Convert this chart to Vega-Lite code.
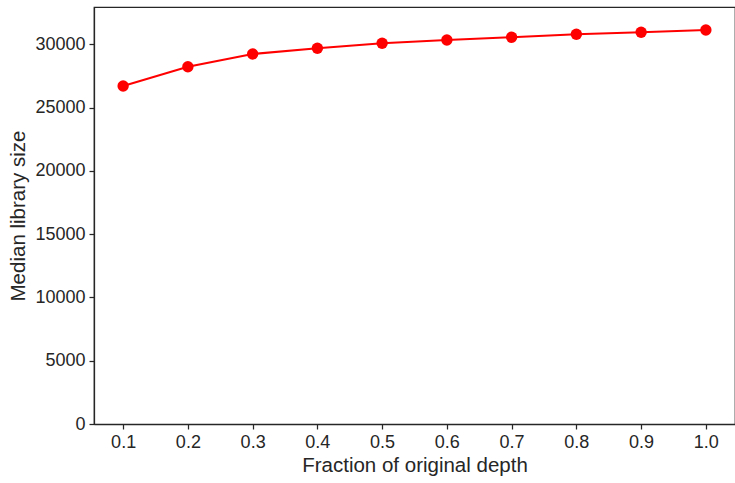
{
  "$schema": "https://vega.github.io/schema/vega-lite/v6.json",
  "width": 641,
  "height": 417,
  "autosize": {"type": "none"},
  "padding": {"left": 94, "top": 7, "right": 0, "bottom": 59},
  "background": "white",
  "config": {
    "font": "Liberation Sans",
    "view": {"stroke": "#262626", "strokeWidth": 1.25},
    "axis": {
      "domainColor": "#262626",
      "domainWidth": 1.25,
      "tickColor": "#262626",
      "tickWidth": 1.25,
      "tickSize": 5,
      "labelFont": "Liberation Sans",
      "labelFontSize": 18,
      "labelColor": "#262626",
      "titleFont": "Liberation Sans",
      "titleFontSize": 20.5,
      "titleFontWeight": "normal",
      "titleColor": "#262626",
      "grid": false,
      "labelPadding": 4
    }
  },
  "data": {
    "values": [
      {"fraction": 0.1, "median": 26705},
      {"fraction": 0.2, "median": 28230},
      {"fraction": 0.3, "median": 29233},
      {"fraction": 0.4, "median": 29683},
      {"fraction": 0.5, "median": 30078},
      {"fraction": 0.6, "median": 30339},
      {"fraction": 0.7, "median": 30552},
      {"fraction": 0.8, "median": 30789},
      {"fraction": 0.9, "median": 30947},
      {"fraction": 1.0, "median": 31129}
    ]
  },
  "encoding": {
    "x": {
      "field": "fraction",
      "type": "quantitative",
      "title": "Fraction of original depth",
      "scale": {"domain": [0.055, 1.045], "nice": false, "zero": false},
      "axis": {"values": [0.1, 0.2, 0.3, 0.4, 0.5, 0.6, 0.7, 0.8, 0.9, 1.0], "format": ".1f", "titlePadding": 4}
    },
    "y": {
      "field": "median",
      "type": "quantitative",
      "title": "Median library size",
      "scale": {"domain": [0, 32946], "nice": false},
      "axis": {"values": [0, 5000, 10000, 15000, 20000, 25000, 30000], "format": "d", "titlePadding": 6}
    }
  },
  "layer": [
    {"mark": {"type": "line", "color": "#ff0000", "strokeWidth": 2}},
    {"mark": {"type": "point", "filled": true, "color": "#ff0000", "opacity": 1, "size": 130}}
  ]
}
